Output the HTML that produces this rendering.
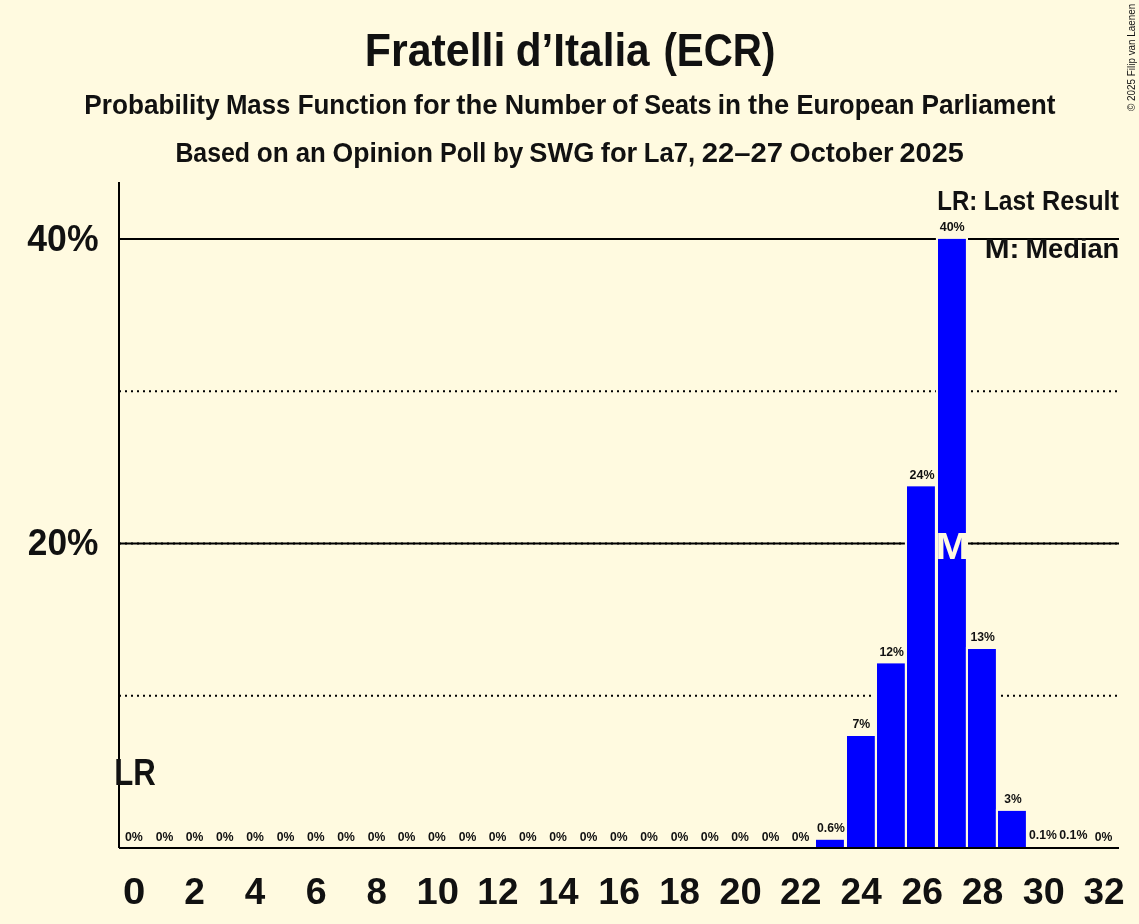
<!DOCTYPE html>
<html lang="en">
<head>
<meta charset="utf-8">
<title>Fratelli d’Italia (ECR) – Probability Mass Function for the Number of Seats in the European Parliament</title>
<style>
html, body { margin: 0; padding: 0; background: #FFFAE0; }
body { width: 1139px; height: 924px; overflow: hidden; }
svg { display: block; }
text { font-family: "Liberation Sans", sans-serif; font-weight: bold; fill: #111111; }
.t { font-size: 47px; fill: #111111; }
.s { font-size: 28px; fill: #111111; }
.a { font-size: 36px; fill: #111111; }
.b { font-size: 12.6px; fill: #111111; }
.c { font-size: 10px; font-weight: normal; fill: #111111; }
#m { fill: #FFFAE0; }
.bar { fill: #0000FF; }
.barbg { fill: #FFFAE0; }
.g { stroke: #000; stroke-width: 2; fill: none; }
.d { stroke: #000; stroke-width: 2; stroke-dasharray: 2 4; fill: none; }
</style>
</head>
<body>
<svg width="1139" height="924" viewBox="0 0 1139 924">
<rect id="bg" x="0" y="0" width="1139" height="924" fill="#FFFAE0"/>
<g id="titles">
<text id="title" class="t" y="66"><tspan id="title_0" x="364.74" textLength="140.74" lengthAdjust="spacingAndGlyphs">Fratelli</tspan> <tspan id="title_1" x="515.71" textLength="133.94" lengthAdjust="spacingAndGlyphs">d’Italia</tspan> <tspan id="title_2" x="663.40" textLength="111.97" lengthAdjust="spacingAndGlyphs">(ECR)</tspan></text>
<text id="sub1" class="s" y="114"><tspan id="sub1_0" x="84.25" textLength="135.30" lengthAdjust="spacingAndGlyphs">Probability</tspan> <tspan id="sub1_1" x="225.88" textLength="64.54" lengthAdjust="spacingAndGlyphs">Mass</tspan> <tspan id="sub1_2" x="297.65" textLength="109.52" lengthAdjust="spacingAndGlyphs">Function</tspan> <tspan id="sub1_3" x="413.75" textLength="36.54" lengthAdjust="spacingAndGlyphs">for</tspan> <tspan id="sub1_4" x="456.34" textLength="41.25" lengthAdjust="spacingAndGlyphs">the</tspan> <tspan id="sub1_5" x="504.66" textLength="101.58" lengthAdjust="spacingAndGlyphs">Number</tspan> <tspan id="sub1_6" x="612.12" textLength="25.68" lengthAdjust="spacingAndGlyphs">of</tspan> <tspan id="sub1_7" x="644.16" textLength="67.43" lengthAdjust="spacingAndGlyphs">Seats</tspan> <tspan id="sub1_8" x="717.71" textLength="23.26" lengthAdjust="spacingAndGlyphs">in</tspan> <tspan id="sub1_9" x="748.12" textLength="40.95" lengthAdjust="spacingAndGlyphs">the</tspan> <tspan id="sub1_10" x="796.57" textLength="117.67" lengthAdjust="spacingAndGlyphs">European</tspan> <tspan id="sub1_11" x="921.49" textLength="133.93" lengthAdjust="spacingAndGlyphs">Parliament</tspan></text>
<text id="sub2" class="s" y="162"><tspan id="sub2_0" x="175.40" textLength="74.61" lengthAdjust="spacingAndGlyphs">Based</tspan> <tspan id="sub2_1" x="256.80" textLength="31.99" lengthAdjust="spacingAndGlyphs">on</tspan> <tspan id="sub2_2" x="295.72" textLength="30.13" lengthAdjust="spacingAndGlyphs">an</tspan> <tspan id="sub2_3" x="332.51" textLength="100.42" lengthAdjust="spacingAndGlyphs">Opinion</tspan> <tspan id="sub2_4" x="440.01" textLength="46.19" lengthAdjust="spacingAndGlyphs">Poll</tspan> <tspan id="sub2_5" x="492.94" textLength="30.41" lengthAdjust="spacingAndGlyphs">by</tspan> <tspan id="sub2_6" x="529.35" textLength="64.96" lengthAdjust="spacingAndGlyphs">SWG</tspan> <tspan id="sub2_7" x="600.75" textLength="36.54" lengthAdjust="spacingAndGlyphs">for</tspan> <tspan id="sub2_8" x="643.74" textLength="51.49" lengthAdjust="spacingAndGlyphs">La7,</tspan> <tspan id="sub2_9" x="701.75" textLength="81.40" lengthAdjust="spacingAndGlyphs">22–27</tspan> <tspan id="sub2_10" x="789.61" textLength="103.94" lengthAdjust="spacingAndGlyphs">October</tspan> <tspan id="sub2_11" x="899.60" textLength="64.12" lengthAdjust="spacingAndGlyphs">2025</tspan></text>
</g>
<g id="grid">
<line class="g" x1="119" y1="239.00" x2="1119" y2="239.00"/>
<line class="g" x1="119" y1="543.50" x2="1119" y2="543.50"/>
<line class="d" x1="119" y1="695.75" x2="1119" y2="695.75"/>
<line class="d" x1="119" y1="391.25" x2="1119" y2="391.25"/>
<line class="d" x1="119" y1="543.50" x2="1119" y2="543.50"/>
</g>
<g id="bars">
<rect class="barbg" x="813.9" y="837.80" width="32.1" height="10.20"/><rect class="bar" x="816" y="839.80" width="27.9" height="8.20"/>
<rect class="barbg" x="844.9" y="734.00" width="32.1" height="114.00"/><rect class="bar" x="847" y="736.00" width="27.9" height="112.00"/>
<rect class="barbg" x="874.9" y="661.40" width="32.1" height="186.60"/><rect class="bar" x="877" y="663.40" width="27.9" height="184.60"/>
<rect class="barbg" x="904.9" y="484.35" width="32.1" height="363.65"/><rect class="bar" x="907" y="486.35" width="27.9" height="361.65"/>
<rect class="barbg" x="935.9" y="236.90" width="32.1" height="611.10"/><rect class="bar" x="938" y="238.90" width="27.9" height="609.10"/>
<rect class="barbg" x="965.9" y="647.00" width="32.1" height="201.00"/><rect class="bar" x="968" y="649.00" width="27.9" height="199.00"/>
<rect class="barbg" x="995.9" y="808.90" width="32.1" height="39.10"/><rect class="bar" x="998" y="810.90" width="27.9" height="37.10"/>
</g>
<g id="axes">
<line class="g" x1="119" y1="182" x2="119" y2="848"/>
<line class="g" x1="119" y1="848" x2="1119" y2="848"/>
</g>
<g id="ylabels">
<text id="y40" class="a" x="27.37" textLength="71.13" lengthAdjust="spacingAndGlyphs" y="250.90">40%</text>
<text id="y20" class="a" x="27.86" textLength="70.60" lengthAdjust="spacingAndGlyphs" y="555.40">20%</text>
</g>
<g id="xlabels">
<text id="x0" class="a" x="123.04" textLength="22.32" lengthAdjust="spacingAndGlyphs" y="904.00">0</text>
<text id="x2" class="a" x="184.34" textLength="20.63" lengthAdjust="spacingAndGlyphs" y="904.00">2</text>
<text id="x4" class="a" x="244.66" textLength="20.50" lengthAdjust="spacingAndGlyphs" y="904.00">4</text>
<text id="x6" class="a" x="305.68" textLength="20.91" lengthAdjust="spacingAndGlyphs" y="904.00">6</text>
<text id="x8" class="a" x="366.56" textLength="20.38" lengthAdjust="spacingAndGlyphs" y="904.00">8</text>
<text id="x10" class="a" x="416.45" textLength="42.48" lengthAdjust="spacingAndGlyphs" y="904.00">10</text>
<text id="x12" class="a" x="477.39" textLength="41.02" lengthAdjust="spacingAndGlyphs" y="904.00">12</text>
<text id="x14" class="a" x="537.95" textLength="40.63" lengthAdjust="spacingAndGlyphs" y="904.00">14</text>
<text id="x16" class="a" x="598.38" textLength="41.59" lengthAdjust="spacingAndGlyphs" y="904.00">16</text>
<text id="x18" class="a" x="659.20" textLength="40.81" lengthAdjust="spacingAndGlyphs" y="904.00">18</text>
<text id="x20" class="a" x="719.24" textLength="42.49" lengthAdjust="spacingAndGlyphs" y="904.00">20</text>
<text id="x22" class="a" x="780.07" textLength="41.44" lengthAdjust="spacingAndGlyphs" y="904.00">22</text>
<text id="x24" class="a" x="840.63" textLength="41.10" lengthAdjust="spacingAndGlyphs" y="904.00">24</text>
<text id="x26" class="a" x="901.44" textLength="41.58" lengthAdjust="spacingAndGlyphs" y="904.00">26</text>
<text id="x28" class="a" x="961.82" textLength="41.59" lengthAdjust="spacingAndGlyphs" y="904.00">28</text>
<text id="x30" class="a" x="1022.68" textLength="42.01" lengthAdjust="spacingAndGlyphs" y="904.00">30</text>
<text id="x32" class="a" x="1083.42" textLength="41.15" lengthAdjust="spacingAndGlyphs" y="904.00">32</text>
</g>
<g id="barlabels">
<text id="b0" class="b" x="124.99" textLength="17.90" lengthAdjust="spacingAndGlyphs" y="840.70">0%</text>
<text id="b1" class="b" x="155.65" textLength="17.61" lengthAdjust="spacingAndGlyphs" y="840.70">0%</text>
<text id="b2" class="b" x="185.84" textLength="17.64" lengthAdjust="spacingAndGlyphs" y="840.70">0%</text>
<text id="b3" class="b" x="216.06" textLength="17.62" lengthAdjust="spacingAndGlyphs" y="840.70">0%</text>
<text id="b4" class="b" x="246.25" textLength="17.65" lengthAdjust="spacingAndGlyphs" y="840.70">0%</text>
<text id="b5" class="b" x="276.63" textLength="17.73" lengthAdjust="spacingAndGlyphs" y="840.70">0%</text>
<text id="b6" class="b" x="307.06" textLength="17.62" lengthAdjust="spacingAndGlyphs" y="840.70">0%</text>
<text id="b7" class="b" x="337.25" textLength="17.65" lengthAdjust="spacingAndGlyphs" y="840.70">0%</text>
<text id="b8" class="b" x="367.65" textLength="17.61" lengthAdjust="spacingAndGlyphs" y="840.70">0%</text>
<text id="b9" class="b" x="397.84" textLength="17.64" lengthAdjust="spacingAndGlyphs" y="840.70">0%</text>
<text id="b10" class="b" x="427.99" textLength="17.90" lengthAdjust="spacingAndGlyphs" y="840.70">0%</text>
<text id="b11" class="b" x="458.65" textLength="17.61" lengthAdjust="spacingAndGlyphs" y="840.70">0%</text>
<text id="b12" class="b" x="488.84" textLength="17.64" lengthAdjust="spacingAndGlyphs" y="840.70">0%</text>
<text id="b13" class="b" x="519.06" textLength="17.62" lengthAdjust="spacingAndGlyphs" y="840.70">0%</text>
<text id="b14" class="b" x="549.25" textLength="17.65" lengthAdjust="spacingAndGlyphs" y="840.70">0%</text>
<text id="b15" class="b" x="579.84" textLength="17.64" lengthAdjust="spacingAndGlyphs" y="840.70">0%</text>
<text id="b16" class="b" x="610.06" textLength="17.62" lengthAdjust="spacingAndGlyphs" y="840.70">0%</text>
<text id="b17" class="b" x="640.25" textLength="17.65" lengthAdjust="spacingAndGlyphs" y="840.70">0%</text>
<text id="b18" class="b" x="670.65" textLength="17.61" lengthAdjust="spacingAndGlyphs" y="840.70">0%</text>
<text id="b19" class="b" x="700.79" textLength="17.90" lengthAdjust="spacingAndGlyphs" y="840.70">0%</text>
<text id="b20" class="b" x="731.25" textLength="17.65" lengthAdjust="spacingAndGlyphs" y="840.70">0%</text>
<text id="b21" class="b" x="761.65" textLength="17.61" lengthAdjust="spacingAndGlyphs" y="840.70">0%</text>
<text id="b22" class="b" x="791.84" textLength="17.64" lengthAdjust="spacingAndGlyphs" y="840.70">0%</text>
<text id="b23" class="b" x="817.04" textLength="27.82" lengthAdjust="spacingAndGlyphs" y="832.00">0.6%</text>
<text id="b24" class="b" x="852.52" textLength="17.75" lengthAdjust="spacingAndGlyphs" y="728.20">7%</text>
<text id="b25" class="b" x="879.53" textLength="24.44" lengthAdjust="spacingAndGlyphs" y="655.60">12%</text>
<text id="b26" class="b" x="909.57" textLength="24.99" lengthAdjust="spacingAndGlyphs" y="478.55">24%</text>
<text id="b27" class="b" x="939.69" textLength="25.08" lengthAdjust="spacingAndGlyphs" y="231.10">40%</text>
<text id="b28" class="b" x="970.53" textLength="24.44" lengthAdjust="spacingAndGlyphs" y="641.20">13%</text>
<text id="b29" class="b" x="1004.35" textLength="17.42" lengthAdjust="spacingAndGlyphs" y="803.10">3%</text>
<text id="b30" class="b" x="1029.04" textLength="27.82" lengthAdjust="spacingAndGlyphs" y="839.30">0.1%</text>
<text id="b31" class="b" x="1059.21" textLength="28.23" lengthAdjust="spacingAndGlyphs" y="839.30">0.1%</text>
<text id="b32" class="b" x="1094.84" textLength="17.64" lengthAdjust="spacingAndGlyphs" y="840.70">0%</text>
</g>
<g id="marks">
<text id="lr" class="a" x="114.15" textLength="41.54" lengthAdjust="spacingAndGlyphs" y="785.00">LR</text>
<text id="m" class="a" x="935.52" textLength="33.64" lengthAdjust="spacingAndGlyphs" y="559.00">M</text>
</g>
<g id="legend">
<text id="lg1" class="s" y="210"><tspan id="lg1_0" x="937.35" textLength="40.00" lengthAdjust="spacingAndGlyphs">LR:</tspan> <tspan id="lg1_1" x="983.81" textLength="50.72" lengthAdjust="spacingAndGlyphs">Last</tspan> <tspan id="lg1_2" x="1042.04" textLength="76.93" lengthAdjust="spacingAndGlyphs">Result</tspan></text>
<text id="lg2" class="s" y="258"><tspan id="lg2_0" x="984.79" textLength="34.66" lengthAdjust="spacingAndGlyphs">M:</tspan> <tspan id="lg2_1" x="1025.44" textLength="93.81" lengthAdjust="spacingAndGlyphs">Median</tspan></text>
</g>
<text id="cp" class="c" transform="translate(1134.7,110.91) rotate(-90)" textLength="107.21" lengthAdjust="spacingAndGlyphs">© 2025 Filip van Laenen</text>
</svg>
</body>
</html>
